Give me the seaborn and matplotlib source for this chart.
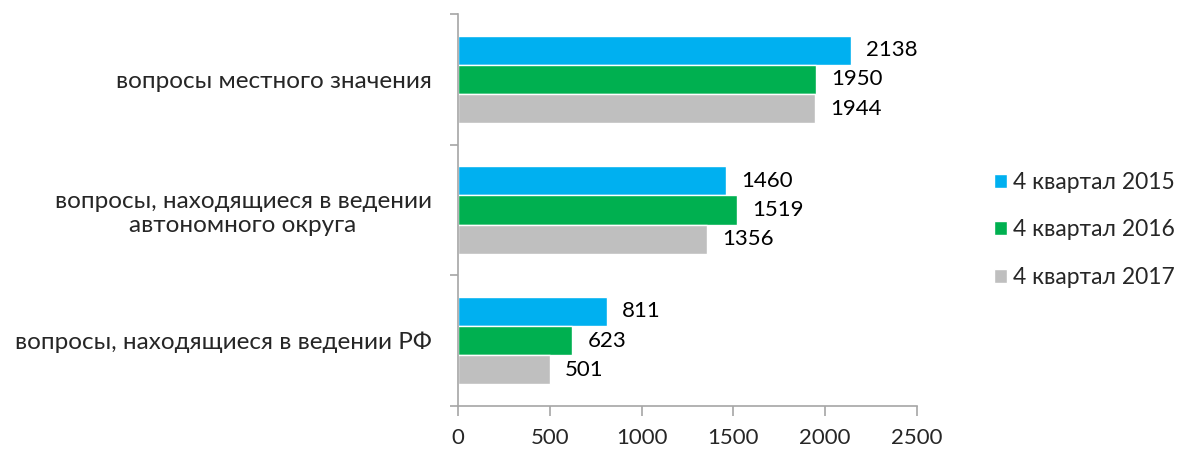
import matplotlib
matplotlib.use("Agg")
import matplotlib.pyplot as plt
import seaborn as sns
import pandas as pd
from matplotlib.ticker import FixedLocator

categories = ["вопросы местного значения",
              "вопросы, находящиеся в ведении\nавтономного округа",
              "вопросы, находящиеся в ведении РФ"]
series = ["4 квартал 2015", "4 квартал 2016", "4 квартал 2017"]
values_2015 = [2138, 1460, 811]
values_2016 = [1950, 1519, 623]
values_2017 = [1944, 1356, 501]
colors = ["#00B0F0", "#00B050", "#BFBFBF"]
x_ticks = [0, 500, 1000, 1500, 2000, 2500]

rows = []
for s, vals in zip(series, [values_2015, values_2016, values_2017]):
    for c, v in zip(categories, vals):
        rows.append({"category": c, "series": s, "value": v})
df = pd.DataFrame(rows)

sns.set_style("white")
plt.rcParams['font.family'] = ['Lato', 'DejaVu Sans']

fig = plt.figure(figsize=(11.77, 4.5), dpi=100)
ax = fig.add_axes([458/1177, 1-406/450, (917-458)/1177, (406-14)/450])

sns.barplot(data=df, y="category", x="value", hue="series", order=categories,
            hue_order=series, palette=colors, orient="h", width=0.67,
            saturation=1, ax=ax, legend=True)

for cont in ax.containers:
    ax.bar_label(cont, padding=11, fontsize=16, color="#000000")

ax.set_xlim(0, 2500)
ax.set_ylim(2.5, -0.5)
ax.set_xticks(x_ticks)
ax.set_xticklabels([str(t) for t in x_ticks], fontsize=16)
ax.set_xlabel("")
ax.set_ylabel("")

ax.yaxis.set_minor_locator(FixedLocator([-0.5, 0.5, 1.5, 2.5]))
ax.tick_params(axis="y", which="major", length=0, pad=19, labelsize=17.5)
ax.tick_params(axis="y", which="minor", length=6, color="#A6A6A6", width=1.2, left=True)
ax.tick_params(axis="x", which="major", length=7, color="#A6A6A6", width=1.2, pad=9, bottom=True)
for lbl in ax.get_yticklabels():
    lbl.set_multialignment("center")

for side in ["top", "right"]:
    ax.spines[side].set_visible(False)
for side in ["left", "bottom"]:
    ax.spines[side].set_color("#A6A6A6")
    ax.spines[side].set_linewidth(1.2)

leg = ax.legend(loc="center left", bbox_to_anchor=(994/1177, 1-230/450), bbox_transform=fig.transFigure,
                frameon=False, fontsize=16.5, handlelength=0.55, handleheight=0.55,
                handletextpad=0.3, labelspacing=1.15, borderpad=0, borderaxespad=0)

fig.savefig("out.png", dpi=100)
